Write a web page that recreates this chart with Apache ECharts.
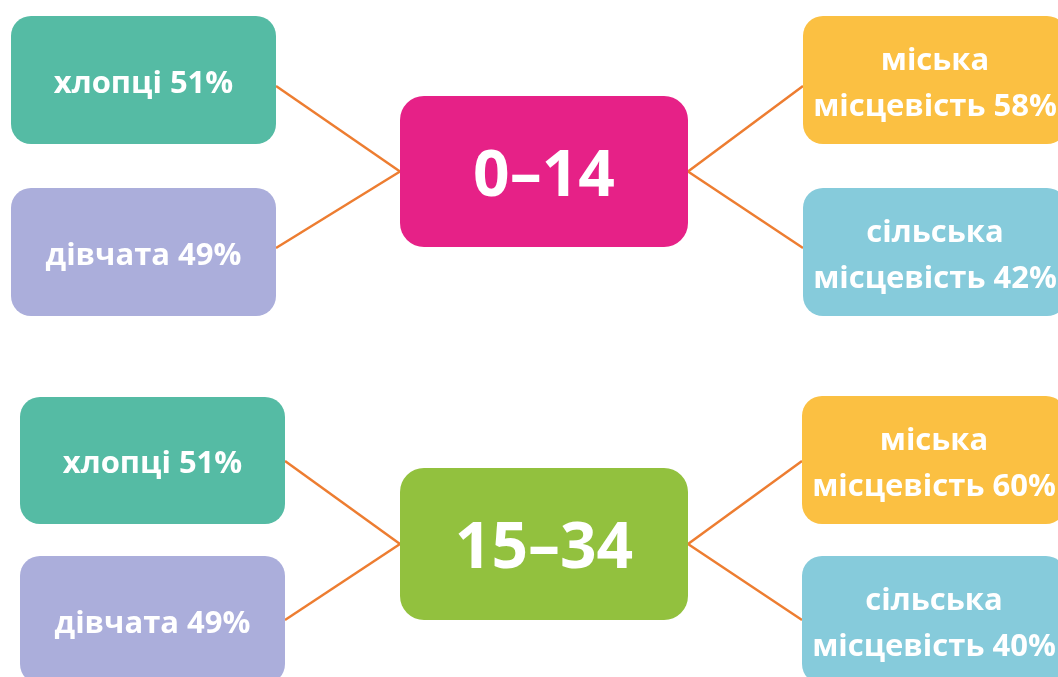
<!DOCTYPE html>
<html>
<head>
<meta charset="utf-8">
<script src="https://cdn.jsdelivr.net/npm/echarts@6/dist/echarts.min.js"></script>
<style>
  html, body { margin: 0; padding: 0; background: #fff; }
  #chart { width: 1058px; height: 677px; }
</style>
</head>
<body>
<div id="chart"></div>
<script>
// дані
const ageGroups = ['0–14', '15–34'];
const boysLabel = 'хлопці';
const girlsLabel = 'дівчата';
const urbanLabel = 'міська\nмісцевість';
const ruralLabel = 'сільська\nмісцевість';
const boysShare = [51, 51];
const girlsShare = [49, 49];
const urbanShare = [58, 60];
const ruralShare = [42, 40];

// розміщення блоків у пікселях: [x0, y0, x1, y1] для кожної групи
const boysBox = [[11, 16, 276, 144], [20, 397, 285, 524]];
const girlsBox = [[11, 188, 276, 316], [20, 556, 285, 684]];
const ageBox = [[400, 96, 688, 247], [400, 468, 688, 620]];
const urbanBox = [[803, 16, 1067, 144], [802, 396, 1066, 524]];
const ruralBox = [[803, 188, 1067, 316], [802, 556, 1066, 684]];
// точки, де лінії торкаються бічних блоків
const topLinkY = [86, 461];
const bottomLinkY = [248, 620];

const colors = {
  boys: '#55bba4',
  girls: '#abaedb',
  urban: '#fbc042',
  rural: '#86cbdb',
  age: ['#e62187', '#92c13e'],
  line: '#ed7d31'
};

const boxes = [];
const links = [];
ageGroups.forEach((age, i) => {
  boxes.push([...boysBox[i], boysLabel + ' ' + boysShare[i] + '%', colors.boys, 31, 20]);
  boxes.push([...girlsBox[i], girlsLabel + ' ' + girlsShare[i] + '%', colors.girls, 31, 20]);
  boxes.push([...ageBox[i], age, colors.age[i], 64, 24]);
  boxes.push([...urbanBox[i], urbanLabel + ' ' + urbanShare[i] + '%', colors.urban, 31, 20]);
  boxes.push([...ruralBox[i], ruralLabel + ' ' + ruralShare[i] + '%', colors.rural, 31, 20]);
  const a = ageBox[i];
  const my = (a[1] + a[3]) / 2;
  links.push({ coords: [[boysBox[i][2], topLinkY[i]], [a[0], my]] });
  links.push({ coords: [[girlsBox[i][2], bottomLinkY[i]], [a[0], my]] });
  links.push({ coords: [[a[2], my], [urbanBox[i][0], topLinkY[i]]] });
  links.push({ coords: [[a[2], my], [ruralBox[i][0], bottomLinkY[i]]] });
});

const chart = echarts.init(document.getElementById('chart'));
chart.setOption({
  animation: false,
  grid: { left: 0, right: 0, top: 0, bottom: 0 },
  xAxis: { type: 'value', min: 0, max: 1058, show: false },
  yAxis: { type: 'value', min: 0, max: 677, inverse: true, show: false },
  series: [
    {
      type: 'lines',
      coordinateSystem: 'cartesian2d',
      data: links,
      lineStyle: { color: colors.line, width: 2.5, opacity: 1 },
      z: 1
    },
    {
      type: 'custom',
      data: boxes,
      z: 2,
      clip: false,
      renderItem: (params, api) => {
        const p0 = api.coord([api.value(0), api.value(1)]);
        const p1 = api.coord([api.value(2), api.value(3)]);
        const d = boxes[params.dataIndex];
        // шрифт Open Sans сидить трохи вище, тому легкий зсув униз
        const shift = d[6] > 40 ? 6 : 4;
        return {
          type: 'group',
          children: [
            {
              type: 'rect',
              shape: { x: p0[0], y: p0[1], width: p1[0] - p0[0], height: p1[1] - p0[1], r: d[7] },
              style: { fill: d[5] }
            },
            {
              type: 'text',
              x: (p0[0] + p1[0]) / 2,
              y: (p0[1] + p1[1]) / 2 + shift,
              style: {
                text: d[4],
                fill: '#fff',
                font: 'bold ' + d[6] + 'px "Open Sans", sans-serif',
                align: 'center',
                verticalAlign: 'middle',
                lineHeight: 46
              }
            }
          ]
        };
      }
    }
  ]
});
</script>
</body>
</html>
